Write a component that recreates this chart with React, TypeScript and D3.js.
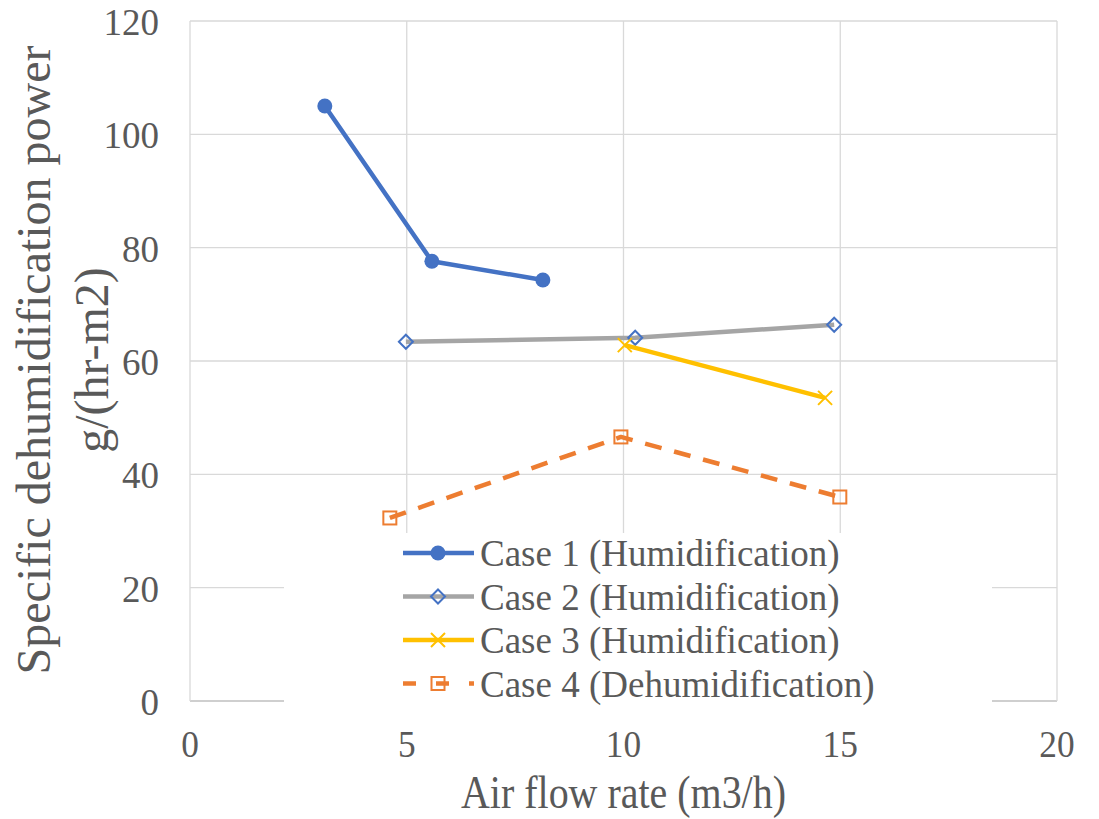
import React, { useRef, useEffect } from "react";
import * as d3 from "d3";

const W = 1099;
const H = 819;
const margin = { top: 21, right: 42, bottom: 118, left: 190 };

const xTicks = [0, 5, 10, 15, 20];
const yTicks = [0, 20, 40, 60, 80, 100, 120];

const case1X = [3.11, 5.58, 8.14];
const case1Y = [105.0, 77.6, 74.3];
const case2X = [4.98, 10.27, 14.86];
const case2Y = [63.4, 64.1, 66.4];
const case3X = [10.03, 14.65];
const case3Y = [62.8, 53.5];
const case4X = [4.61, 9.94, 14.99];
const case4Y = [32.3, 46.6, 36.0];

const seriesNames = [
    "Case 1 (Humidification)",
    "Case 2 (Humidification)",
    "Case 3 (Humidification)",
    "Case 4 (Dehumidification)",
];
const seriesColors = ["#4472C4", "#A5A5A5", "#FFC000", "#ED7D31"];
const markerKinds = ["circle", "diamond", "cross", "square"];

const textColor = "#595959";
const font = "'Times New Roman', 'Liberation Serif', serif";

// draw one marker of a given kind centred at (0,0) inside g
function drawMarker(g, kind) {
    if (kind === "circle") {
        g.append("circle").attr("r", 7.5).attr("fill", "#4472C4");
    } else if (kind === "diamond") {
        g.append("path")
            .attr("d", "M0,-7 L7,0 L0,7 L-7,0 Z")
            .attr("fill", "none")
            .attr("stroke", "#4472C4")
            .attr("stroke-width", 2);
    } else if (kind === "cross") {
        g.append("path")
            .attr("d", "M-7,-7 L7,7 M-7,7 L7,-7")
            .attr("stroke", "#FFC000")
            .attr("stroke-width", 2);
    } else {
        g.append("rect")
            .attr("x", -6.5)
            .attr("y", -6.5)
            .attr("width", 13)
            .attr("height", 13)
            .attr("fill", "none")
            .attr("stroke", "#ED7D31")
            .attr("stroke-width", 2);
    }
}

function drawChart(ref) {
    const svg = d3.select(ref);
    svg.selectAll("*").remove();

    const x = d3
        .scaleLinear()
        .domain([0, 20])
        .range([margin.left, W - margin.right]);
    const y = d3
        .scaleLinear()
        .domain([0, 120])
        .range([H - margin.bottom, margin.top]);

    // gridlines
    const grid = svg.append("g").attr("stroke", "#D9D9D9").attr("stroke-width", 1.3);
    yTicks.forEach((t) => {
        grid.append("line")
            .attr("x1", x(0))
            .attr("x2", x(20))
            .attr("y1", y(t))
            .attr("y2", y(t))
            .attr("stroke", t === 0 ? "#BFBFBF" : "#D9D9D9");
    });
    xTicks.forEach((t) => {
        grid.append("line")
            .attr("x1", x(t))
            .attr("x2", x(t))
            .attr("y1", y(0))
            .attr("y2", y(120));
    });

    // tick labels
    svg.append("g")
        .selectAll("text")
        .data(yTicks)
        .join("text")
        .attr("x", x(0) - 31)
        .attr("y", (d) => y(d) + 14)
        .attr("text-anchor", "end")
        .attr("font-size", 37)
        .attr("font-family", font)
        .attr("fill", textColor)
        .text((d) => d);

    svg.append("g")
        .selectAll("text")
        .data(xTicks)
        .join("text")
        .attr("transform", (d) => `translate(${x(d)},757) scale(0.93,1)`)
        .attr("text-anchor", "middle")
        .attr("font-size", 38)
        .attr("font-family", font)
        .attr("fill", textColor)
        .text((d) => d);

    // axis titles
    svg.append("text")
        .attr("transform", `translate(${(x(0) + x(20)) / 2},808) scale(0.85,1)`)
        .attr("text-anchor", "middle")
        .attr("font-size", 47)
        .attr("font-family", font)
        .attr("fill", textColor)
        .text("Air flow rate (m3/h)");

    const yTitle = svg
        .append("text")
        .attr("transform", "translate(50,360) rotate(-90)")
        .attr("text-anchor", "middle")
        .attr("font-size", 48)
        .attr("font-family", font)
        .attr("fill", textColor);
    yTitle.append("tspan").attr("x", 0).attr("dy", 0).text("Specific dehumidification power");
    yTitle.append("tspan").attr("x", 0).attr("dy", 58).text("g/(hr-m2)");

    // series
    const series = [
        { xs: case1X, ys: case1Y },
        { xs: case2X, ys: case2Y },
        { xs: case3X, ys: case3Y },
        { xs: case4X, ys: case4Y },
    ];
    const line = d3
        .line()
        .x((d) => x(d[0]))
        .y((d) => y(d[1]));

    series.forEach((s, i) => {
        const pts = s.xs.map((v, j) => [v, s.ys[j]]);
        svg.append("path")
            .attr("d", line(pts))
            .attr("fill", "none")
            .attr("stroke", seriesColors[i])
            .attr("stroke-width", 4.5)
            .attr("stroke-linejoin", "round")
            .attr("stroke-dasharray", i === 3 ? "17,13" : null);
        pts.forEach((p) => {
            const g = svg.append("g").attr("transform", `translate(${x(p[0])},${y(p[1])})`);
            drawMarker(g, markerKinds[i]);
        });
    });

    // legend, drawn over the plot with a white box
    const legend = svg.append("g");
    legend.append("rect")
        .attr("x", 284)
        .attr("y", 533)
        .attr("width", 708)
        .attr("height", 172)
        .attr("fill", "white");
    const rowY = [553, 596.5, 640, 683.5];
    seriesNames.forEach((name, i) => {
        const row = legend.append("g").attr("transform", `translate(0,${rowY[i]})`);
        row.append("line")
            .attr("x1", 403)
            .attr("x2", 474)
            .attr("y1", 0)
            .attr("y2", 0)
            .attr("stroke", seriesColors[i])
            .attr("stroke-width", 4.5)
            .attr("stroke-dasharray", i === 3 ? "13,20,13,20,13" : null);
        const m = row.append("g").attr("transform", "translate(438,0)");
        drawMarker(m, markerKinds[i]);
        row.append("text")
            .attr("x", 480)
            .attr("y", 13)
            .attr("font-size", 37)
            .attr("font-family", font)
            .attr("fill", textColor)
            .text(name);
    });
}

export default function App() {
    const ref = useRef(null);

    useEffect(() => {
        if (ref.current) drawChart(ref.current);
    }, []);

    return (
        <div style={{ position: "absolute", left: 0, top: 0 }}>
            <svg ref={ref} width={W} height={H} style={{ display: "block", background: "white" }} />
        </div>
    );
}
